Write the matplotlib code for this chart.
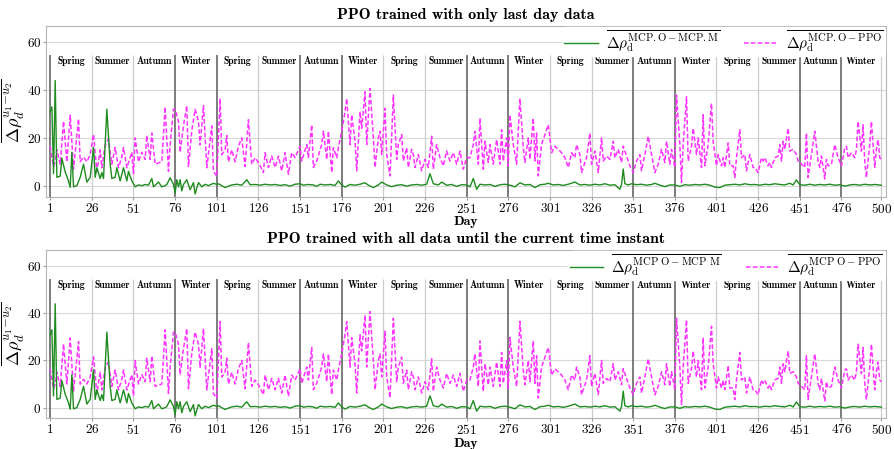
import matplotlib
matplotlib.use('Agg')
import matplotlib.pyplot as plt
import numpy as np

plt.rcParams['font.family'] = ['cmr10', 'DejaVu Serif']
plt.rcParams['mathtext.fontset'] = 'cm'
plt.rcParams['axes.formatter.use_mathtext'] = True

# ---- data (both panels show the same curves) ----
ppo_days = [1, 2, 3, 4, 5, 7, 9, 11, 13, 15, 18, 19, 21, 23, 25, 27, 29, 31, 32, 34, 36, 38, 40, 42, 44, 45, 47,
            50, 51, 52, 54, 56, 58, 59, 61, 62, 64, 66, 68, 70, 72, 73, 75, 76, 78, 79, 81, 83, 84, 86, 88, 90,
            91, 93, 95, 98, 99, 101, 103, 104, 106, 107, 108, 110, 112, 114, 116, 118, 120, 122, 124, 126, 129,
            130, 132, 134, 136, 138, 140, 142, 144, 146, 148, 151, 152, 155, 156, 158, 159, 161, 164, 165, 167,
            168, 170, 171, 173, 174, 176, 178, 179, 181, 182, 184, 185, 187, 188, 190, 191, 193, 195, 196, 198,
            199, 200, 202, 203, 205, 207, 209, 210, 212, 213, 215, 216, 218, 219, 220, 222, 224, 226, 228, 230,
            231, 233, 235, 237, 239, 241, 243, 245, 247, 249, 251, 253, 255, 256, 258, 259, 261, 262, 264, 265,
            267, 269, 271, 272, 273, 275, 276, 277, 279, 281, 283, 285, 286, 288, 289, 291, 292, 293, 294, 296,
            298, 300, 301, 302, 304, 306, 308, 310, 312, 314, 316, 317, 319, 320, 323, 325, 326, 328, 330, 332,
            333, 335, 337, 339, 340, 342, 344, 345, 347, 349, 351, 353, 355, 356, 358, 360, 362, 364, 366, 368,
            370, 371, 373, 374, 376, 377, 379, 380, 381, 383, 384, 386, 387, 389, 390, 392, 393, 394, 396, 398,
            399, 401, 402, 404, 405, 406, 408, 409, 411, 412, 413, 415, 416, 418, 419, 421, 423, 424, 426, 428,
            429, 430, 432, 433, 434, 436, 438, 439, 440, 441, 442, 444, 445, 447, 449, 450, 452, 454, 455, 456,
            458, 460, 462, 463, 464, 466, 467, 468, 470, 472, 474, 476, 478, 479, 480, 482, 484, 485, 486, 488,
            489, 490, 491, 493, 494, 496, 497, 498, 499, 500]
ppo_vals = [16.5, 12, 8, 10, 15, 9, 27, 10, 29.5, 7, 28, 10, 12, 10, 13, 21.5, 6, 15, 7.5, 17, 19.5, 9, 16, 7.5,
            12, 16, 7.5, 14, 5, 20, 10, 14, 11, 21, 11, 22, 9, 9.5, 10, 33, 6, 17, 32, 32, 27, 14, 25, 33.5, 8,
            23, 32, 27, 17, 33.5, 7.5, 25, 6, 4, 36.5, 13, 15, 21, 10, 15, 10, 16.5, 20, 8, 27.6, 9, 11.7, 9.7,
            5.5, 13.8, 7.6, 12.4, 7.6, 12.4, 6.2, 13.8, 4.8, 13.8, 11.7, 16.5, 10.3, 17.2, 11.7, 25.5, 7.6,
            10.3, 17.2, 22.8, 11, 22.8, 5.5, 15.9, 11.7, 15.9, 22.8, 31, 36.5, 17.2, 29.7, 18.6, 6.2, 31, 24,
            39.3, 17.2, 40.7, 20, 7.6, 20, 22.8, 13, 32.4, 13, 4.1, 37.9, 11, 17.2, 21.4, 10.3, 15.9, 7.6, 15.2,
            13, 7.6, 13, 6.2, 11, 7.6, 20.7, 6.9, 17.2, 11.7, 8.3, 14.5, 10.3, 13.8, 9, 14.5, 6.9, 11.7, 11.7,
            17.2, 22.8, 9, 28.3, 6.9, 18.6, 9.7, 17.2, 9, 19.3, 9, 23.4, 10.3, 20, 8.3, 29.7, 17.2, 9, 36.5,
            15.9, 9.7, 20, 11, 28.3, 10.3, 22, 4.1, 17.2, 21.4, 25.5, 20, 13.8, 16.5, 15.2, 13.8, 11.7, 7.6,
            13.8, 11.7, 17.2, 13, 5.5, 11.7, 22, 9, 14.5, 5.5, 20, 10.3, 12.4, 11, 18.6, 11.7, 15.2, 9.7, 16.5,
            12.4, 8.3, 5.5, 10.3, 13, 6.2, 13, 20.7, 13, 5.5, 9, 15.2, 9.7, 18.6, 9, 15.2, 7.6, 37.9, 17.2, 1.4,
            17.2, 37.2, 10.3, 16.5, 24, 13, 20, 7.6, 29.7, 8.3, 17.2, 34.5, 18.6, 8.3, 13, 8.3, 11.7, 7.6, 17.9,
            8.3, 8.3, 3.4, 11.7, 23.4, 11.7, 13, 6.2, 13, 7.6, 7.6, 5.5, 11.7, 10.3, 11.7, 8.3, 9.7, 7.6, 11.7,
            12.4, 17.2, 10.3, 18.6, 15.2, 24, 14.5, 15.2, 13, 10.3, 9, 7.6, 22, 3.4, 13, 22.8, 10.3, 7.6, 12.4,
            2.8, 11, 8.3, 9, 17.2, 11.7, 8.3, 15.9, 16.5, 11.7, 13.8, 11.7, 15.2, 26.9, 14.5, 25.5, 10.3, 3.4,
            17.2, 26.9, 7.6, 15.2, 19.3, 11.7, 11]

mcpm_days = [1, 2, 3, 4, 5, 7, 8, 10, 12, 13, 14, 15, 17, 19, 21, 23, 25, 27, 28, 29, 31, 32, 33, 35, 37, 38, 40,
             41, 43, 45, 47, 48, 50, 52, 54, 56, 58, 60, 62, 63, 66, 68, 70, 71, 73, 75, 76, 77, 78, 79, 80, 81,
             83, 85, 87, 88, 90, 92, 94, 96, 99, 101, 102, 104, 106, 108, 110, 113, 116, 119, 121, 124, 127, 130,
             133, 136, 139, 142, 145, 148, 151, 153, 156, 159, 161, 163, 166, 169, 172, 174, 176, 178, 181, 184,
             187, 190, 192, 195, 198, 200, 203, 206, 209, 212, 215, 218, 221, 224, 227, 229, 231, 234, 236, 239,
             242, 245, 248, 251, 253, 255, 257, 259, 262, 265, 268, 271, 274, 277, 280, 283, 286, 289, 292, 295,
             298, 300, 303, 306, 309, 312, 316, 319, 322, 325, 328, 331, 334, 337, 340, 343, 344, 345, 346, 348,
             350, 353, 356, 359, 362, 364, 367, 370, 373, 376, 379, 382, 385, 388, 391, 394, 397, 400, 403, 406,
             409, 412, 415, 418, 421, 424, 427, 430, 433, 436, 439, 442, 445, 447, 449, 451, 454, 457, 460, 463,
             466, 469, 472, 475, 478, 481, 484, 487, 490, 493, 496, 500]
mcpm_vals = [31, 33, 5, 44, 3.5, 4, 11.5, 5.7, 2, -0.7, 14, -0.5, 0, 3.5, 9, 1.5, 3.5, 16, 3.5, 7.5, 3, 5.5, 3,
             32, 9, 3, 3.5, 7.5, 2, 7.5, 2, 6, 2, -0.5, 0.3, 0, 0.5, 0.2, 3, -0.5, 1.5, -0.5, 0, 0.5, 3.3, 0.5,
             -3, 2.5, -0.5, 2.5, -2.2, 0.5, 2.5, -1.7, 1.3, -3.5, 1.3, -0.5, 0.6, 0, 1, 0.5, 0.8, 0, -0.8, -0.2,
             0.3, 0.6, 0.2, 2.5, 0.4, 0.5, 0.2, 0.6, 0.3, 0.5, 0.1, 0.4, -0.2, 0.6, 0.8, 0.2, 0.5, 0.3, -0.3, 0.6,
             0.3, 0.5, 0.1, 2.0, 0.3, -0.6, 0.5, 0.2, 0.6, 1.2, 0.2, -0.8, 0.3, 1.5, 0.3, -0.4, 0.2, 0.4, -0.2,
             0.3, 0.5, 0.2, 0.6, 5, 0.8, 0.3, 1.5, 0.2, 0.5, -0.3, 0.4, 0.3, -0.5, 3, -1.5, 0.6, 0.3, 0.5, -0.3,
             0.4, 0.6, 0.2, -0.5, 1.2, 0.3, 0.5, -0.8, 0.4, 0.6, 1.0, 0.3, 0.5, 0.1, 0.6, 1.5, 0.3, 0.5, 0.2,
             0.6, 0.3, 0.8, 0.2, 0.4, -1.5, 0.5, 7, 0.8, 0.3, 0.8, 0.4, 0.6, 0.2, 0.5, 1.0, 0.2, -0.4, 0.3, 0.3,
             -0.3, 0.4, 0.2, 0.5, 0.3, 0.6, 0.2, -0.6, -0.8, 0.2, 0.4, 0.6, 0.3, 0.8, 0.4, 0.5, 0.2, 0.6, 0.4,
             0.8, 0.5, 0.3, 1.0, 0.3, 2.4, 0.4, 0.2, 0.6, 0.2, 0.5, 0.3, 0.6, 0.2, 0.4, -0.2, 0.3, 0.5, 0.2, 0.6,
             0.3, 0.5, 0.2]

seasons = ['Spring', 'Summer', 'Autumn', 'Winter'] * 5
season_edges = [1, 26, 51, 76, 101, 126, 151, 176, 201, 226, 251, 276, 301, 326, 351, 376, 401, 426, 451, 476, 500]
dark_edges = [1, 76, 101, 151, 176, 251, 276, 351, 376, 451, 476]
xticks = [1, 26, 51, 76, 101, 126, 151, 176, 201, 226, 251, 276, 301, 326, 351, 376, 401, 426, 451, 476, 500]

titles = ['PPO trained with only last day data',
          'PPO trained with all data until the current time instant']
labels_green = [r'$\overline{\mathbf{\Delta}\rho_{\mathrm{d}}^{\mathrm{MCP.O-MCP.M}}}$',
                r'$\overline{\mathbf{\Delta}\rho_{\mathrm{d}}^{\mathrm{MCP\ O-MCP\ M}}}$']
labels_mag = [r'$\overline{\mathbf{\Delta}\rho_{\mathrm{d}}^{\mathrm{MCP.O-PPO}}}$',
              r'$\overline{\mathbf{\Delta}\rho_{\mathrm{d}}^{\mathrm{MCP\ O-PPO}}}$']

bold = ['cmb10', 'DejaVu Serif']

fig = plt.figure(figsize=(8.94, 4.49), dpi=100)
ax_pos = [[0.0515, 0.562, 0.94, 0.381], [0.0515, 0.068, 0.94, 0.376]]

for k in range(2):
    ax = fig.add_axes(ax_pos[k])
    ax.set_xlim(-1.5, 503)
    ax.set_ylim(-4.6, 67)
    ax.set_yticks([0, 20, 40, 60])
    ax.yaxis.grid(True, color='0.85', lw=0.8)
    ax.set_axisbelow(True)

    # season boundaries
    for e in season_edges:
        if e in dark_edges:
            ax.vlines(e, -4.6, 54.5, color='0.35', lw=1.1, zorder=1)
        else:
            ax.vlines(e, -4.6, 54.5, color='0.8', lw=0.9, zorder=1)
    for i in range(len(seasons)):
        xc = (season_edges[i] + season_edges[i + 1]) / 2.0
        ax.text(xc, 52, seasons[i], ha='center', va='center', fontsize=7, family=bold)

    ax.plot(mcpm_days, mcpm_vals, color='#1f8c1f', lw=1.0, label=labels_green[k], zorder=3)
    ax.plot(ppo_days, ppo_vals, color='#ff33ff', lw=1.1, ls=(0, (3, 1.5)), label=labels_mag[k], zorder=2)

    ax.set_xticks(xticks)
    ax.tick_params(labelsize=9.5, length=2, color='0.6', pad=1.5)
    for s in ax.spines.values():
        s.set_color('0.7')
        s.set_linewidth(0.8)

    ax.set_title(titles[k], fontsize=11.5, family=bold, pad=5)
    ax.set_xlabel('Day', fontsize=10, family=bold, labelpad=0.5)
    ax.set_ylabel(r'$\overline{\Delta\rho_d^{u_1\!-\!u_2}}$', fontsize=13)
    ax.yaxis.set_label_coords(-0.024, 0.5)
    leg = ax.legend(loc='upper right', ncol=2, fontsize=11, frameon=True, facecolor='white',
                    edgecolor='white', framealpha=1, borderaxespad=0.1, handlelength=2.2,
                    handletextpad=0.5, columnspacing=1.6, borderpad=0.1)

plt.savefig('out.png', dpi=100)
